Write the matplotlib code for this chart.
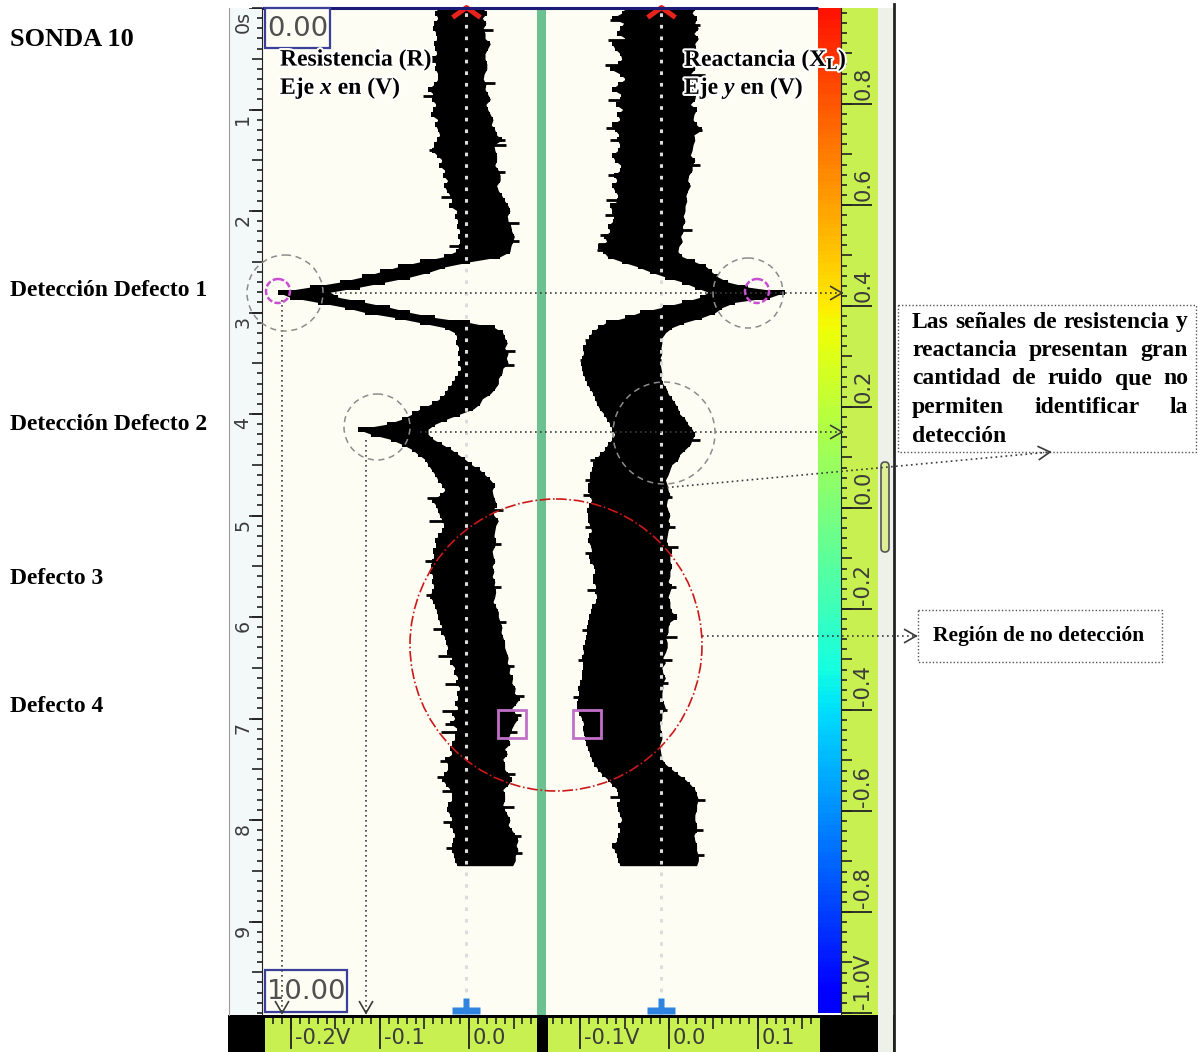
#!/usr/bin/env python3
# -*- coding: utf-8 -*-

import numpy as np
import matplotlib
matplotlib.use("Agg")
import matplotlib.pyplot as plt
import matplotlib.patheffects as pe
from matplotlib import font_manager
from matplotlib.path import Path
from matplotlib.colors import ListedColormap
from matplotlib.patches import Circle, Rectangle, FancyBboxPatch

# -------------------------
# Probe 10 strip chart: band edges in mV, one sample every 50 ms
# -------------------------
DT = 0.05

r_left_mv = [
    -35, -38, -35, -39, -40, -37, -36, -39, -38, -36,
    -42, -37, -38, -35, -35, -39, -46, -40, -42, -37,
    -40, -43, -35, -38, -35, -33, -36, -39, -42, -36,
    -30, -34, -27, -29, -24, -28, -25, -21, -19, -22,
    -13, -16, -12, -13, -10, -12, -10, -11, -15, -28,
    -55, -80, -100, -120, -145, -179, -215, -201, -170, -139,
    -117, -83, -55, -27, -16, -13, -15, -11, -12, -10,
    -12, -9, -12, -16, -19, -24, -27, -33, -42, -55,
    -64, -75, -92, -125, -110, -88, -75, -64, -57, -49,
    -46, -42, -38, -35, -30, -27, -33, -42, -37, -35,
    -33, -30, -28, -30, -35, -38, -37, -40, -39, -42,
    -43, -44, -40, -42, -39, -42, -44, -40, -38, -36,
    -35, -33, -30, -31, -27, -26, -24, -25, -19, -21,
    -16, -17, -12, -15, -10, -13, -12, -16, -12, -19,
    -16, -21, -13, -16, -16, -19, -21, -19, -27, -24,
    -24, -28, -30, -26, -21, -19, -19, -24, -25, -21,
    -19, -21, -18, -16, -18, -19, -19, -17, -16, -13,
]
r_right_mv = [
    15, 20, 15, 19, 16, 18, 18, 24, 21, 18,
    18, 20, 20, 17, 16, 19, 18, 21, 24, 19,
    21, 24, 27, 25, 29, 31, 37, 28, 29, 31,
    31, 29, 33, 35, 35, 31, 33, 37, 40, 44,
    46, 43, 44, 47, 48, 51, 49, 47, 46, 35,
    1, -27, -44, -66, -94, -123, -156, -147, -117, -89,
    -66, -38, 1, 29, 38, 40, 43, 40, 44, 42,
    44, 38, 37, 33, 33, 29, 24, 15, 12, 5,
    -10, -25, -38, -46, -46, -40, -30, -20, -12, -4,
    3, 12, 18, 24, 29, 26, 27, 29, 31, 26,
    28, 33, 30, 29, 28, 30, 29, 26, 27, 29,
    26, 28, 26, 29, 28, 30, 29, 27, 30, 33,
    33, 35, 37, 36, 38, 40, 40, 42, 44, 43,
    46, 45, 49, 48, 52, 51, 57, 53, 48, 52,
    55, 51, 48, 46, 44, 46, 40, 43, 38, 40,
    40, 44, 48, 44, 38, 40, 40, 38, 40, 43,
    46, 44, 48, 52, 55, 53, 55, 52, 52, 49,
]
x_left_mv = [
    -49, -53, -64, -51, -55, -58, -49, -64, -61, -55,
    -53, -57, -66, -55, -49, -57, -64, -54, -55, -60,
    -52, -58, -55, -64, -61, -56, -58, -55, -57, -64,
    -61, -54, -55, -62, -58, -64, -61, -57, -58, -66,
    -64, -62, -63, -69, -66, -73, -70, -80, -74, -69,
    -53, -35, -21, -4, 15, 29, 44, 35, 15, -8,
    -33, -49, -71, -80, -87, -90, -93, -97, -96, -98,
    -99, -98, -97, -94, -92, -89, -85, -83, -81, -78,
    -73, -70, -66, -64, -61, -64, -69, -72, -78, -83,
    -85, -87, -89, -89, -91, -91, -89, -87, -90, -92,
    -91, -91, -89, -87, -90, -91, -88, -87, -90, -89,
    -84, -83, -85, -85, -82, -83, -81, -82, -87, -88,
    -90, -91, -92, -92, -93, -94, -97, -96, -98, -97,
    -97, -98, -98, -100, -102, -101, -102, -103, -103, -101,
    -98, -96, -97, -96, -94, -93, -91, -89, -87, -84,
    -80, -75, -69, -64, -58, -57, -55, -58, -57, -55,
    -53, -57, -55, -57, -58, -64, -61, -58, -57, -55,
]
x_right_mv = [
    29, 26, 31, 29, 33, 28, 33, 29, 30, 27,
    33, 29, 29, 24, 26, 28, 27, 30, 29, 24,
    31, 28, 27, 31, 37, 28, 29, 27, 26, 24,
    29, 26, 26, 22, 21, 24, 21, 19, 20, 18,
    18, 16, 18, 15, 16, 13, 15, 11, 10, 15,
    29, 42, 48, 55, 66, 89, 130, 114, 74, 60,
    52, 37, 17, 3, -4, -8, -8, -9, -8, -10,
    -10, -9, -8, -9, -7, -3, -1, 3, 7, 10,
    12, 18, 21, 26, 29, 26, 24, 18, 12, 10,
    3, 1, -1, -4, -2, -1, 1, -2, -3, -1,
    1, -1, 1, -1, -2, -3, -1, 3, 1, 1,
    3, 1, 1, -1, 3, 1, -1, 1, 1, 3,
    9, 1, -1, -1, -4, -2, -2, -4, -7, -4,
    -8, -7, -4, -7, -7, -8, -8, -6, -4, -8,
    -8, -10, -10, -8, -8, -10, -10, -9, -8, -4,
    3, 10, 18, 24, 29, 31, 33, 31, 31, 29,
    29, 31, 31, 28, 29, 31, 31, 33, 33, 31,
]

# isolated noise spikes (time s, reach mV)
r_spike_t = [0.52, 0.80, 0.87, 1.40, 1.86, 2.34, 4.83, 5.05, 5.45, 5.78, 6.12,
             6.38, 6.66, 6.93, 7.05, 7.13, 7.42, 7.58, 7.71, 8.02, 8.28,
             0.22, 0.74, 1.30, 1.35, 1.62, 2.12, 2.30, 3.38, 3.52, 4.95, 5.28,
             5.70, 6.05, 6.48, 6.78, 6.97, 7.13, 7.55, 7.87, 8.16, 8.33]
r_spike_mv = [-49, -46, -52, -45, -32, -22, -47, -45, -49, -48, -40,
              -35, -27, -30, -27, -31, -33, -36, -30, -29, -26,
              27, 29, 40, 42, 40, 56, 56, 52, 50, 38, 36,
              36, 42, 50, 62, 58, 54, 52, 50, 58, 60]
x_spike_t = [0.12, 0.32, 0.56, 0.91, 1.18, 1.30, 1.65, 1.89, 2.04, 2.24, 2.33,
             2.38, 3.27, 3.47, 4.45, 4.65, 4.80, 5.11, 5.37, 5.73, 6.13, 6.42,
             6.79, 7.77, 8.27,
             0.17, 0.66, 1.20, 1.55, 2.19, 4.26, 4.82, 5.11, 5.31, 5.70, 6.20,
             6.42, 6.65, 6.92, 7.80, 8.10, 8.34]
x_spike_mv = [-66, -69, -72, -69, -71, -66, -69, -71, -72, -78, -80,
              -81, -94, -100, -89, -94, -97, -94, -94, -92, -98, -102,
              -108, -66, -64,
              35, 40, 37, 35, 26, 35, 3, 7, 10, 8, 9,
              3, -1, -2, 40, 38, 39]

R_NULL = -0.003   # balance point, resistance channel (V)
X_NULL = -0.009   # balance point, reactance channel (V)

time_ticks = [0, 1, 2, 3, 4, 5, 6, 7, 8, 9]
time_labels = ["0s", "1", "2", "3", "4", "5", "6", "7", "8", "9"]
r_ticks = [-0.2, -0.1, 0.0]
r_tick_labels = ["-0.2V", "-0.1", "0.0"]
x_ticks = [-0.1, 0.0, 0.1]
x_tick_labels = ["-0.1V", "0.0", "0.1"]
scale_ticks = [0.8, 0.6, 0.4, 0.2, 0.0, -0.2, -0.4, -0.6, -0.8, -1.0]
scale_labels = ["0.8", "0.6", "0.4", "0.2", "0.0", "-0.2", "-0.4", "-0.6", "-0.8", "-1.0V"]
readout_top, readout_bottom = "0.00", "10.00"

defect_labels = ["Detección Defecto 1", "Detección Defecto 2", "Defecto 3", "Defecto 4"]
note_lines = ["Las señales de resistencia y", "reactancia presentan gran",
              "cantidad de ruido que no", "permiten identificar la", "detección"]
region_label = "Región de no detección"

# -------------------------
# style
# -------------------------
plt.rcParams["mathtext.fontset"] = "custom"
plt.rcParams["mathtext.rm"] = "Liberation Serif:bold"
plt.rcParams["mathtext.bf"] = "Liberation Serif:bold"
plt.rcParams["mathtext.it"] = "Liberation Serif:italic:bold"

_names = {f.name for f in font_manager.fontManager.ttflist}
if "Liberation Sans Narrow" in _names:
    LCD, LCD_K = "Liberation Sans Narrow", 1.0
else:
    LCD, LCD_K = "DejaVu Sans", 0.76

CREAM = "#fdfdf4"
RULER = "#c8f050"
INK = "#3c3c3c"
SERIF = dict(family="Liberation Serif", weight="bold", color="black")

W, H = 1198, 1052
T_TOP, T_BOT = 0.0, 1007 / 101.5

fig = plt.figure(figsize=(W / 100, H / 100), dpi=100)
fig.patch.set_facecolor("white")


def px_axes(x0, y0, x1, y1, fc="none"):
    ax = fig.add_axes([x0 / W, 1 - y1 / H, (x1 - x0) / W, (y1 - y0) / H])
    ax.set_facecolor(fc)
    ax.set_xticks([])
    ax.set_yticks([])
    for s in ax.spines.values():
        s.set_visible(False)
    return ax


# black band under the rulers
px_axes(228, 1015, 895, 1052, fc="black")

# -------------------------
# signal panels
# -------------------------
t = np.arange(len(r_left_mv)) * DT

ax_r = px_axes(263, 8, 537, 1015, fc=CREAM)
ax_r.set_xlim(-0.2315, 0.0764)
ax_x = px_axes(546, 8, 818, 1015, fc=CREAM)
ax_x.set_xlim(-0.1382, 0.1674)

caret = Path([(-14, -5), (0, 5), (14, -5)], [Path.MOVETO, Path.LINETO, Path.LINETO])
tee = Path([(-14, -8.5), (14, -8.5), (14, -1.5), (3.5, -1.5), (3.5, 8.5),
            (-3.5, 8.5), (-3.5, -1.5), (-14, -1.5), (-14, -8.5)], closed=True)

for ax, lo, hi, st, sv, null in [(ax_r, r_left_mv, r_right_mv, r_spike_t, r_spike_mv, R_NULL),
                                 (ax_x, x_left_mv, x_right_mv, x_spike_t, x_spike_mv, X_NULL)]:
    ax.set_ylim(T_BOT, T_TOP)
    lo_v, hi_v = np.array(lo) / 1000, np.array(hi) / 1000
    # stepped trace plus a straight-segment pass so the steep flanks stay joined
    ax.fill_betweenx(t, lo_v, hi_v, step="mid", color="black", lw=0, zorder=2)
    ax.fill_betweenx(t, lo_v, hi_v, color="black", lw=0, zorder=2)
    ax.hlines(st, null, np.array(sv) / 1000, color="black", lw=2, zorder=2)
    ax.axvline(null, color="#dcdcdc", lw=2.2, ls=(0, (1.2, 2.6)),
               dash_capstyle="butt", zorder=3)
    ax.plot([null], [0.044], ls="none", marker=caret, ms=20, mfc="none",
            mec="#e8231c", mew=3.6, clip_on=False, zorder=4)
    ax.plot([null], [9.837], ls="none", marker=tee, ms=20, mfc="#2e84df",
            mec="none", clip_on=False, zorder=4)

# separator between channels
px_axes(537, 8, 546, 1015, fc="#6cc191")

# -------------------------
# time ruler (left)
# -------------------------
ax_t = px_axes(229, 8, 262, 1015, fc="#f3f8f8")
ax_t.set_ylim(T_BOT, T_TOP)
ax_t.set_xlim(0, 1)
ax_t.spines["right"].set_visible(True)
ax_t.spines["right"].set_color("#222")
ax_t.spines["left"].set_visible(True)
ax_t.spines["left"].set_color("#9a9a9a")
ax_t.yaxis.set_ticks_position("right")
ax_t.set_yticks(np.arange(0, 10, 0.5))
ax_t.set_yticks(np.arange(0, 10, 0.1), minor=True)
ax_t.set_ylim(T_BOT, T_TOP)
ax_t.tick_params(axis="y", which="major", direction="in", length=7, width=1.2,
                 color="#222", labelright=False, labelleft=False)
ax_t.tick_params(axis="y", which="minor", direction="in", length=3.5, width=1.2,
                 color="#222")
ax_t.hlines(time_ticks, 0.62, 1.0, color="#222", lw=1.2)
for v, s in zip(time_ticks, time_labels):
    ax_t.text(0.42, v + 0.03, s, rotation=90, rotation_mode="anchor",
              ha="right", va="center", family=LCD, fontsize=18 * LCD_K, color=INK)

# -------------------------
# voltage rulers (bottom)
# -------------------------
for box, lim, ticks, labels in [((265, 1018, 537, 1052), (-0.2292, 0.0764), r_ticks, r_tick_labels),
                                ((548, 1018, 820, 1052), (-0.1360, 0.1697), x_ticks, x_tick_labels)]:
    ax = px_axes(*box, fc=RULER)
    ax.set_ylim(0, 1)
    ax.xaxis.set_ticks_position("top")
    ax.set_xticks(np.round(np.arange(-0.3, 0.3001, 0.05), 3))
    ax.set_xticks(np.round(np.arange(-0.3, 0.3001, 0.01), 3), minor=True)
    ax.set_xlim(*lim)
    ax.tick_params(axis="x", which="major", direction="in", length=8, width=1.2,
                   color="#222", labeltop=False, labelbottom=False)
    ax.tick_params(axis="x", which="minor", direction="in", length=4, width=1.2, color="#222")
    ax.vlines(ticks, 0.08, 1.0, color="#222", lw=1.3)
    for v, s in zip(ticks, labels):
        ax.text(v + 0.004, 0.42, s, ha="left", va="center", family=LCD,
                fontsize=20 * LCD_K, color=INK)

# -------------------------
# colour scale and its ruler (right)
# -------------------------
jet_part = ListedColormap(plt.cm.jet(np.linspace(0.11, 0.89, 256)))
ax_c = px_axes(818, 8, 840, 1013)
ax_c.imshow(np.linspace(1, -1, 256)[:, None], aspect="auto", cmap=jet_part,
            vmin=-1, vmax=1, extent=[0, 1, -1, 1])

ax_s = px_axes(841, 8, 878, 1015, fc=RULER)
ax_s.set_xlim(0, 1)
ax_s.spines["left"].set_visible(True)
ax_s.spines["left"].set_color("#222")
ax_s.yaxis.set_ticks_position("left")
ax_s.set_yticks(np.round(np.arange(-1.0, 1.0001, 0.1), 2))
ax_s.set_yticks(np.round(np.arange(-1.0, 1.0001, 0.02), 2), minor=True)
ax_s.set_ylim(-1.004, 0.990)
ax_s.tick_params(axis="y", which="major", direction="in", length=8, width=1.2,
                 color="#222", labelleft=False)
ax_s.tick_params(axis="y", which="minor", direction="in", length=4, width=1.2, color="#222")
ax_s.hlines(scale_ticks, 0.0, 0.85, color="#222", lw=1.3)
for v, s in zip(scale_ticks, scale_labels):
    ax_s.text(0.6, v + 0.008, s, rotation=90, rotation_mode="anchor",
              ha="left", va="center", family=LCD, fontsize=20 * LCD_K, color=INK)

px_axes(878, 8, 893, 1052, fc="#eef1ea")

# -------------------------
# annotation layer (pixel coordinates)
# -------------------------
ov = fig.add_axes([0, 0, 1, 1])
ov.set_xlim(0, W)
ov.set_ylim(H, 0)
ov.axis("off")
ov.set_zorder(10)

ov.plot([262, 818], [8, 8], color="#1c1c78", lw=2.2, solid_capstyle="butt")
ov.plot([894, 894], [4, 1052], color="#222", lw=2)
ov.add_patch(FancyBboxPatch((881, 462), 8, 90, boxstyle="round,pad=0,rounding_size=4",
                            fc="#dcee96", ec="#555", lw=1.2))

for (x0, y0, w, h), s in [((265, 8, 65, 40), readout_top), ((265, 970, 82, 42), readout_bottom)]:
    ov.add_patch(Rectangle((x0, y0), w, h, fc=CREAM, ec="#3b3f9a", lw=1.6, zorder=2))
    ov.text(x0 + w / 2, y0 + h / 2 + 1, s, ha="center", va="center", family=LCD,
            fontsize=26 * LCD_K, color="#505050", zorder=3)

DOT = dict(color="#3a3a3a", lw=1.2, ls=(0, (1, 2)))


def dotted_arrow(x0, y0, x1, y1):
    ov.plot([x0, x1], [y0, y1], zorder=4, **DOT)
    ang = np.arctan2(y1 - y0, x1 - x0)
    for s in (1, -1):
        a = ang + np.pi + s * np.radians(30)
        ov.plot([x1, x1 + 13 * np.cos(a)], [y1, y1 + 13 * np.sin(a)],
                color="#3a3a3a", lw=1.2, zorder=4)


dotted_arrow(335, 293, 842, 293)
dotted_arrow(420, 432, 842, 432)
dotted_arrow(282, 300, 282, 1013)
dotted_arrow(366, 440, 366, 1013)
dotted_arrow(662, 488, 1050, 452)
dotted_arrow(702, 636, 916, 636)

for (cx, cy), r in [((285, 293), 38), ((748, 293), 35), ((377, 427), 33), ((664, 433), 51)]:
    ov.add_patch(Circle((cx, cy), r, fill=False, ec="#8c8c8c", lw=1.1, ls=(0, (4, 3)), zorder=5))
for cx, cy in [(278, 291), (757, 291)]:
    ov.add_patch(Circle((cx, cy), 12, fill=False, ec="#c84fd0", lw=1.8, ls=(0, (2.5, 1)), zorder=5))
ov.add_patch(Circle((556, 645), 146, fill=False, ec="#cc1818", lw=1.2, ls="-.", zorder=5))
for x0 in (498, 573):
    ov.add_patch(Rectangle((x0, 710), 28, 28, fill=False, ec="#c070c8", lw=2, zorder=5))

ov.add_patch(Rectangle((898, 305), 298, 147, fill=False, ec="#555", lw=1, ls=(0, (1, 1.5))))
ov.add_patch(Rectangle((918, 610), 244, 52, fill=False, ec="#555", lw=1, ls=(0, (1, 1.5))))

# labels
halo = [pe.withStroke(linewidth=3, foreground="white")]
ov.text(10, 39, "SONDA 10", ha="left", va="center", fontsize=19, **SERIF)
for y, s in zip([291, 425, 578, 707], defect_labels):
    ov.text(10, y, s, ha="left", va="center", fontsize=17, **SERIF)
ov.text(280, 60, "Resistencia (R)", ha="left", va="center", fontsize=17,
        path_effects=halo, zorder=6, **SERIF)
ov.text(280, 88, r"Eje $x$ en (V)", ha="left", va="center", fontsize=17,
        path_effects=halo, zorder=6, **SERIF)
ov.text(684, 60, r"Reactancia ($\mathbf{X}_{\mathbf{L}}$)", ha="left", va="center",
        fontsize=17, path_effects=halo, zorder=6, **SERIF)
ov.text(684, 88, r"Eje $y$ en (V)", ha="left", va="center", fontsize=17,
        path_effects=halo, zorder=6, **SERIF)
ov.text(1039, 636, region_label, ha="center", va="center", fontsize=15.5, **SERIF)

# justified note
renderer = fig.canvas.get_renderer()
X_L, X_R = 912, 1188
for i, line in enumerate(note_lines):
    y = 322 + i * 28.5
    words = line.split()
    arts = [ov.text(0, y, w, ha="left", va="center", fontsize=17, **SERIF) for w in words]
    widths = [a.get_window_extent(renderer).width for a in arts]
    if i < len(note_lines) - 1 and len(words) > 1:
        gap = (X_R - X_L - sum(widths)) / (len(words) - 1)
    else:
        gap = 6
    x = X_L
    for a, w in zip(arts, widths):
        a.set_x(x)
        x += w + gap

fig.savefig("out.png", dpi=100, facecolor="white")
